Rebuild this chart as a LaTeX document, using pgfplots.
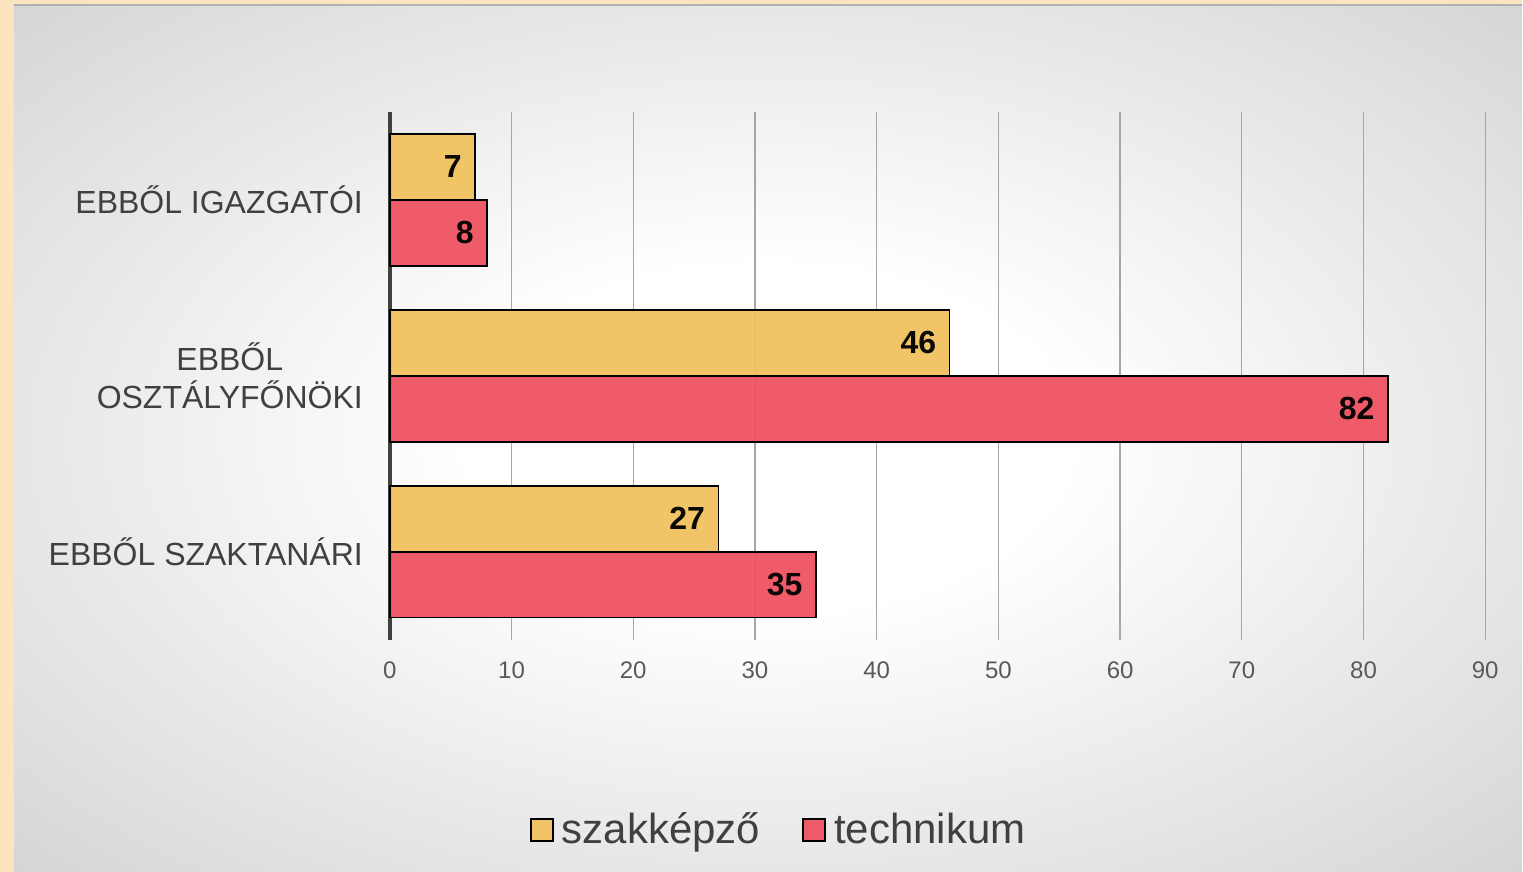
\documentclass[border=0pt]{standalone}
\usepackage{fontspec}
\setmainfont{Liberation Sans}
\usepackage{pgfplots}
\pgfplotsset{compat=1.18}

\definecolor{peach}{HTML}{FCE4C0}
\definecolor{barY}{HTML}{F1C25F}
\definecolor{barR}{HTML}{EF5361}
\definecolor{lbl}{HTML}{404040}
\definecolor{tck}{HTML}{595959}
\definecolor{grd}{HTML}{A6A6A6}

\pgfdeclareradialshading{bgshade}{\pgfpoint{0bp}{0bp}}{%
  color(0bp)=(white); color(10bp)=(white); color(35bp)=(black!16);
  color(50bp)=(black!25); color(70bp)=(black!31)}

\begin{document}
\begin{tikzpicture}
% page background
\fill[peach] (0,0) rectangle (761.5pt,436pt);
\shade[shading=bgshade] (7pt,0) rectangle (761.5pt,433.5pt);
\draw[black!30, line width=0.8pt] (7pt,433.5pt) -- (761.5pt,433.5pt);

\begin{axis}[
    at={(195pt,116pt)}, anchor=south west,
    scale only axis,
    width=548pt, height=264pt,
    xbar,
    bar width=33pt,
    xmin=0, xmax=90,
    ymin=-0.5, ymax=2.5,
    xtick={0,10,...,90},
    ytick={0,1,2},
    yticklabels={EBBŐL SZAKTANÁRI, EBBŐL\\OSZTÁLYFŐNÖKI, EBBŐL IGAZGATÓI},
    axis lines*=left,
    x axis line style={draw=none},
    y axis line style={draw=black!75, line width=2pt},
    xmajorgrids,
    grid style={grd, line width=0.6pt},
    major tick length=0pt,
    /pgf/number format/assume math mode=true,
    xticklabel style={font=\fontsize{12}{14}\selectfont, text=tck, yshift=-7.5pt},
    yticklabel style={font=\fontsize{16}{19}\selectfont, text=lbl, align=center, xshift=-10pt},
    nodes near coords,
    every node near coord/.append style={anchor=east, xshift=-3pt,
        font=\fontsize{16}{18}\selectfont\bfseries, text=black},
    legend style={at={(0.356,-0.36)}, anchor=center, draw=none, fill=none,
        font=\fontsize{21}{24}\selectfont, text=lbl,
        legend columns=2,
        /tikz/every odd column/.append style={column sep=2pt},
        /tikz/every even column/.append style={column sep=19pt}},
    legend image code/.code={%
        \draw[#1, line width=1pt] (0pt,-5.5pt) rectangle (11pt,5.5pt);},
    clip=false,
]
\addplot[bar shift=16.5pt, fill=barY, fill opacity=0.95, draw=black, line width=0.8pt]
    coordinates {(27,0) (46,1) (7,2)};
\addplot[bar shift=-16.5pt, fill=barR, fill opacity=0.95, draw=black, line width=0.8pt]
    coordinates {(35,0) (82,1) (8,2)};
\legend{szakképző, technikum}
\end{axis}
\end{tikzpicture}
\end{document}
